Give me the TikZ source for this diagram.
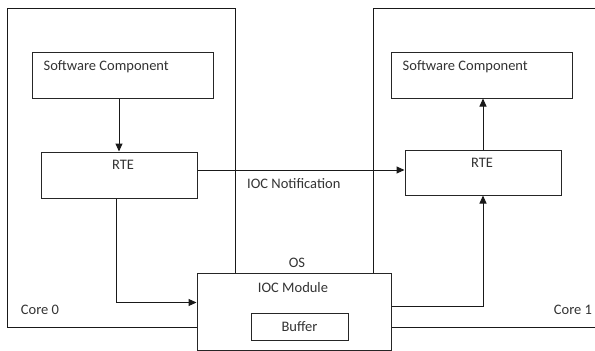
\documentclass[tikz,border=0pt]{standalone}
\usepackage{fontspec}
\setmainfont{Carlito}
\usepackage{tikz}
\usetikzlibrary{calc,arrows.meta,positioning}

\begin{document}
\begin{tikzpicture}[>={Triangle[length=8pt,width=7pt]},x=1pt,y=-1pt,
    font=\fontsize{14.5}{17}\selectfont,
    box/.style={draw=black!85,line width=1pt,fill=white,inner sep=0pt},
    txt/.style={text=black!80,inner sep=0pt},
    link/.style={line width=1pt,draw=black!90}]
  \useasboundingbox (0,0) rectangle (595,351);
  % the two cores
  \draw[link] (7,8) rectangle (235,327);
  \draw[link] (595,8) -- (373,8) -- (373,327) -- (595,327);
  \node[txt] (core0) at (40,310) {Core 0};
  \node[txt] (core1) at (573,310) {Core 1};
  % core 0
  \node[box,minimum width=181pt,minimum height=46pt] (swA) at (122.5,75) {};
  \node[txt,anchor=west] at ($(swA.north west)+(12,15)$) {Software Component};
  \node[box,minimum width=156pt,minimum height=46pt] (rteA) at (119,175) {};
  \node[txt] at ($(rteA.north)+(4,13)$) {RTE};
  % core 1
  \node[box,minimum width=181pt,minimum height=46pt] (swB) at (481.5,75) {};
  \node[txt,anchor=west] at ($(swB.north west)+(12,15)$) {Software Component};
  \node[box,minimum width=156pt,minimum height=45pt] (rteB) at (483,172.5) {};
  \node[txt] at ($(rteB.north)+(-1,13)$) {RTE};
  % OS with the IOC module
  \node[txt] (os) at (297,263) {OS};
  \node[box,minimum width=194pt,minimum height=77pt] (ioc) at (294,311.5) {};
  \node[txt] at ($(ioc.north)+(-1,15)$) {IOC Module};
  \node[box,minimum width=97pt,minimum height=27pt] (buf) at (299.5,326.5) {};
  \node[txt] at (buf) {Buffer};
  % connections
  \draw[link,->] (swA.south -| rteA.north) -- (rteA.north);
  \draw[link,->] (rteB.north) -- (rteB.north |- swB.south);
  \draw[link,->] ($(rteA.east)+(0,-5)$) -- ($(rteA.east -| rteB.west)+(0,-5)$);
  \node[txt,anchor=west] (notif) at (247,184) {IOC Notification};
  \draw[link,->] ($(rteA.south)+(-3,0)$) |- ($(ioc.west)+(0,-9)$);
  \draw[link,->] ($(ioc.east)+(0,-5)$) -| (rteB.south);
\end{tikzpicture}
\end{document}
